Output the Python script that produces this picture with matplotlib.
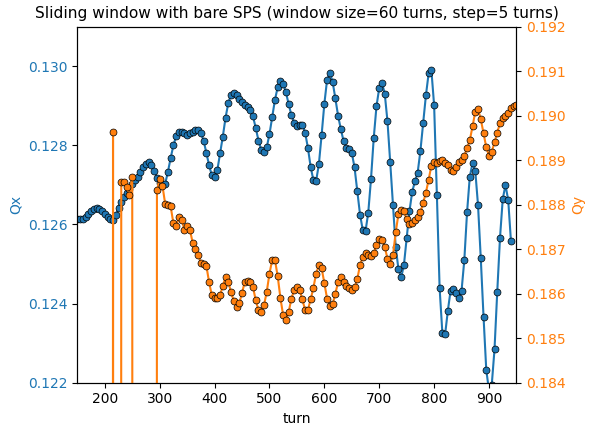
import numpy as np
import matplotlib
matplotlib.use("Agg")
import matplotlib.pyplot as plt

# window centres, step of 5 turns
turns_qx = np.arange(150, 945, 5)
turns_qy = np.arange(150, 955, 5)

qx = [
    0.12615, 0.12613, 0.12615, 0.12620, 0.12627, 0.12633, 0.12638, 0.12641, 0.12640, 0.12635,
    0.12627, 0.12619, 0.12614, 0.12612, 0.12625, 0.12642, 0.12657, 0.12669, 0.12679, 0.12690,
    0.12702, 0.12713, 0.12721, 0.12732, 0.12744, 0.12753, 0.12759, 0.12751, 0.12736, 0.12718,
    0.12705, 0.12699, 0.12703, 0.12733, 0.12768, 0.12800, 0.12823, 0.12834, 0.12834, 0.12830,
    0.12827, 0.12831, 0.12834, 0.12839, 0.12839, 0.12831, 0.12812, 0.12781, 0.12750, 0.12724,
    0.12719, 0.12737, 0.12780, 0.12822, 0.12870, 0.12907, 0.12928, 0.12933, 0.12927, 0.12918,
    0.12910, 0.12903, 0.12898, 0.12889, 0.12873, 0.12844, 0.12812, 0.12789, 0.12782, 0.12795,
    0.12828, 0.12872, 0.12915, 0.12947, 0.12962, 0.12955, 0.12934, 0.12904, 0.12876, 0.12857,
    0.12849, 0.12851, 0.12852, 0.12832, 0.12794, 0.12746, 0.12712, 0.12710, 0.12752, 0.12826,
    0.12905, 0.12966, 0.12983, 0.12961, 0.12919, 0.12875, 0.12841, 0.12811, 0.12793, 0.12790,
    0.12781, 0.12744, 0.12685, 0.12625, 0.12586, 0.12583, 0.12630, 0.12715, 0.12819, 0.12899,
    0.12945, 0.12958, 0.12931, 0.12861, 0.12757, 0.12648, 0.12543, 0.12487, 0.12466, 0.12498,
    0.12566, 0.12633, 0.12682, 0.12709, 0.12731, 0.12786, 0.12857, 0.12926, 0.12982, 0.12990,
    0.12901, 0.12675, 0.12439, 0.12326, 0.12322, 0.12382, 0.12433, 0.12438, 0.12427, 0.12414,
    0.12433, 0.12510, 0.12631, 0.12721, 0.12755, 0.12735, 0.12648, 0.12514, 0.12367, 0.12232,
    0.12180, 0.12195, 0.12284, 0.12430, 0.12566, 0.12664, 0.12700, 0.12661, 0.12557,
]

# 0.0 = failed fit (off the scale)
qy = [
    0.0, 0.0, 0.0, 0.0, 0.0, 0.0, 0.0, 0.0, 0.0, 0.0,
    0.0, 0.0, 0.0, 0.18964, 0.0, 0.0, 0.18852, 0.18852, 0.18840, 0.18822,
    0.18863, 0.0, 0.0, 0.0, 0.0, 0.0, 0.0, 0.0, 0.0, 0.18832,
    0.18858, 0.18843, 0.18802, 0.18799, 0.18796, 0.18758, 0.18751, 0.18772, 0.18766, 0.18744,
    0.18753, 0.18744, 0.18715, 0.18700, 0.18688, 0.18669, 0.18667, 0.18663, 0.18626, 0.18596,
    0.18590, 0.18590, 0.18596, 0.18618, 0.18637, 0.18627, 0.18603, 0.18584, 0.18570, 0.18578,
    0.18602, 0.18626, 0.18628, 0.18627, 0.18615, 0.18585, 0.18563, 0.18559, 0.18574, 0.18604,
    0.18645, 0.18676, 0.18676, 0.18639, 0.18590, 0.18551, 0.18540, 0.18559, 0.18589, 0.18608,
    0.18614, 0.18608, 0.18587, 0.18563, 0.18563, 0.18587, 0.18613, 0.18645, 0.18664, 0.18658,
    0.18624, 0.18589, 0.18572, 0.18576, 0.18600, 0.18626, 0.18637, 0.18626, 0.18618, 0.18613,
    0.18609, 0.18614, 0.18633, 0.18664, 0.18683, 0.18691, 0.18688, 0.18685, 0.18691, 0.18709,
    0.18722, 0.18720, 0.18705, 0.18679, 0.18667, 0.18686, 0.18738, 0.18779, 0.18789, 0.18785,
    0.18767, 0.18757, 0.18758, 0.18766, 0.18773, 0.18783, 0.18804, 0.18827, 0.18856, 0.18888,
    0.18895, 0.18893, 0.18899, 0.18900, 0.18894, 0.18889, 0.18878, 0.18876, 0.18885, 0.18895,
    0.18901, 0.18910, 0.18927, 0.18945, 0.18976, 0.19009, 0.19015, 0.18992, 0.18960, 0.18929,
    0.18910, 0.18919, 0.18940, 0.18962, 0.18983, 0.18994, 0.18999, 0.19007, 0.19018, 0.19022,
    0.19024,
]

fig, ax1 = plt.subplots(figsize=(5.95, 4.3), dpi=100)
fig.subplots_adjust(left=0.13, right=0.868, bottom=0.11, top=0.938)

ax1.plot(turns_qx, qx, '-o', color='C0', ms=5, mec='k', mew=0.5)
ax1.set_xlabel('turn')
ax1.set_ylabel('Qx', color='C0')
ax1.tick_params(axis='y', labelcolor='C0')
ax1.set_xlim(150, 950)
ax1.set_ylim(0.122, 0.131)

ax2 = ax1.twinx()
ax2.plot(turns_qy, qy, '-o', color='C1', ms=5, mec='k', mew=0.5)
ax2.set_ylabel('Qy', color='C1')
ax2.tick_params(axis='y', labelcolor='C1')
ax2.set_ylim(0.184, 0.192)

ax1.set_title('Sliding window with bare SPS (window size=60 turns, step=5 turns)',
              fontsize=11.1)

fig.savefig('out.png')
